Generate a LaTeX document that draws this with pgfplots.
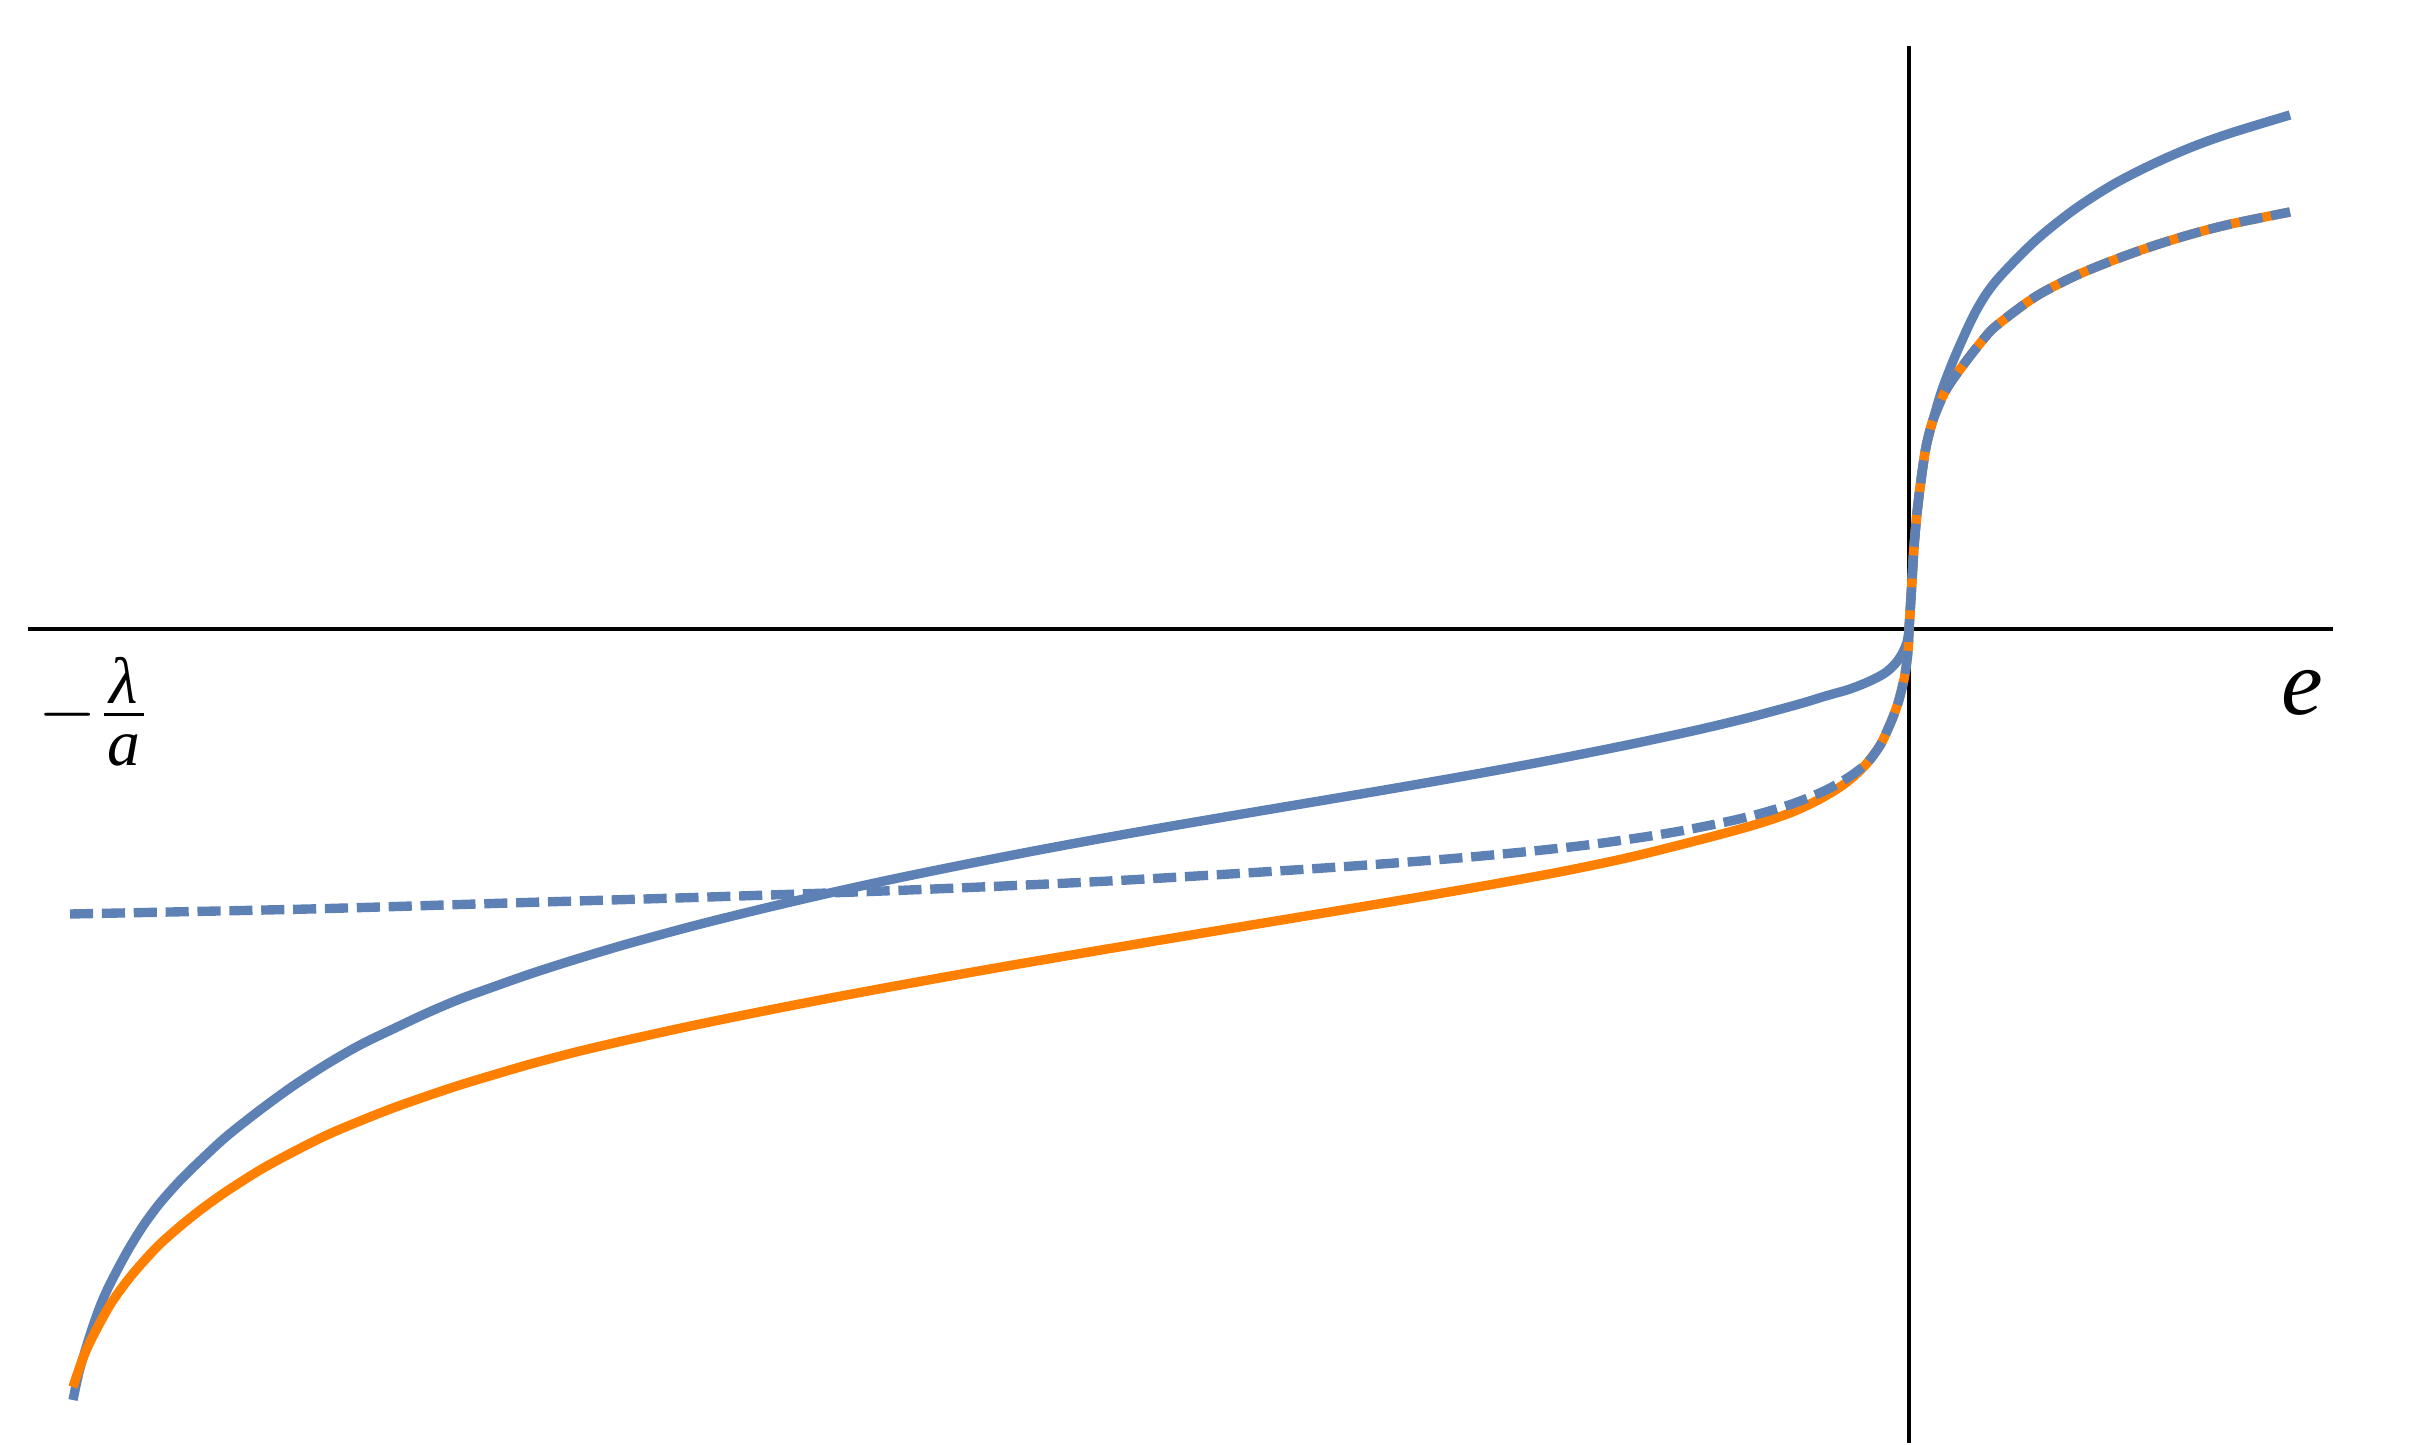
\documentclass[border=0pt]{standalone}
\usepackage{pgfplots}
\pgfplotsset{compat=1.18}
\usepackage{fontspec}
\setmainfont{Liberation Serif}

\definecolor{mblue}{RGB}{94,129,181}
\definecolor{morange}{RGB}{255,128,0}

\begin{document}
\begin{tikzpicture}
\begin{axis}[
    x=0.16pt, y=0.16pt,
    xmin=-1881, xmax=424,
    ymin=-814, ymax=583,
    axis lines=middle,
    axis line style={-, black, line width=0.5pt},
    xtick=\empty, ytick=\empty,
    clip=false,
    every axis plot/.append style={line width=1.5pt, line join=round},
]
% page frame (no ink)
\path (axis cs:-1909,-814) rectangle (axis cs:503,629);

% solid blue
\addplot[mblue, smooth] coordinates {
(-1836,-771) (-1830,-743) (-1823,-719) (-1816,-697) (-1808,-675)
(-1799,-655) (-1782,-623) (-1766,-597) (-1749,-574) (-1728,-550.5)
(-1706,-529) (-1682,-507) (-1649,-481) (-1616,-457) (-1582,-435)
(-1549,-416) (-1516,-400) (-1482,-384) (-1449,-370) (-1416,-358)
(-1382,-346) (-1356,-337.5) (-1329,-329) (-1282,-315) (-1216,-297)
(-1149,-280.3) (-1082,-264.6) (-1016,-250.1) (-949,-236.4) (-882,-223.3)
(-815,-210.8) (-748,-198.9) (-681,-187.4) (-614,-176.1) (-547,-164.8)
(-480,-153.3) (-413,-141.4) (-346,-128.8) (-279,-115.4) (-212,-101)
(-159,-88.3) (-109,-74.8) (-84,-67.2) (-59,-60) (-39,-52)
(-24,-44) (-14,-35) (-7,-25) (-2,-13) (0,0)
(1,16) (3,49) (5,82) (8,116) (12,149) (17,182) (24,209)
(33,239) (47,275) (67,318) (87,348) (126,388) (166,420)
(205,445) (244,465) (283,482) (322,496) (381,514)
};

% solid orange
\addplot[morange, smooth] coordinates {
(-1836,-758) (-1826,-729) (-1816,-707) (-1799,-676) (-1782,-652)
(-1766,-633) (-1749,-615) (-1728,-596.5) (-1706,-579) (-1682,-562)
(-1649,-541) (-1616,-523) (-1582,-506) (-1549,-492) (-1516,-479)
(-1482,-467) (-1449,-456) (-1416,-446) (-1382,-436) (-1356,-429)
(-1329,-422) (-1282,-411) (-1216,-396.5) (-1149,-382.8) (-1082,-369.7)
(-1016,-357.4) (-949,-345.3) (-882,-333.6) (-815,-322.2) (-748,-311)
(-681,-299.9) (-614,-288.8) (-547,-277.7) (-480,-266.4) (-413,-254.7)
(-346,-242.3) (-279,-228.2) (-212,-211.5) (-159,-197.2) (-119,-184)
(-89,-170) (-64,-154.5) (-44,-136.5) (-29,-116.5) (-22,-102)
(-16,-88) (-11,-74) (-7,-59) (-4,-45) (-2,-31) (-0.5,-16) (0,0)
(1,16) (3,49) (5,82) (8,116) (12,149) (17,182) (24,209)
(37,239) (55,265) (73,288) (87,303) (126,332) (166,353)
(205,369) (244,383) (283,395) (322,405) (381,417)
};

% dashed blue
\addplot[mblue, smooth, dash pattern=on 3.7pt off 1.4pt] coordinates {
(-1839,-285) (-1600,-280) (-1400,-274) (-1200,-268) (-1000,-261)
(-800,-252) (-600,-240) (-450,-229) (-330,-217) (-240,-204)
(-170,-190) (-120,-176) (-85,-162) (-60,-148) (-42,-134)
(-29,-116.5) (-22,-102) (-16,-88) (-11,-74) (-7,-59) (-4,-45)
(-2,-31) (-0.5,-16) (0,0)
(1,16) (3,49) (5,82) (8,116) (12,149) (17,182) (24,209)
(37,239) (55,265) (73,288) (87,303) (126,332) (166,353)
(205,369) (244,383) (283,395) (322,405) (381,417)
};

\node at (axis cs:393,-64) {\fontsize{15}{18}\selectfont\itshape e};
\node at (axis cs:-1814,-83) {\fontsize{12}{14}\selectfont
  $-\frac{\makebox[6.4pt]{\fontsize{10.5}{12}\selectfont\itshape λ}}{\raisebox{-1pt}{\makebox[6.4pt]{\fontsize{10.5}{12}\selectfont\itshape a}}}$};
\end{axis}
\end{tikzpicture}
\end{document}
